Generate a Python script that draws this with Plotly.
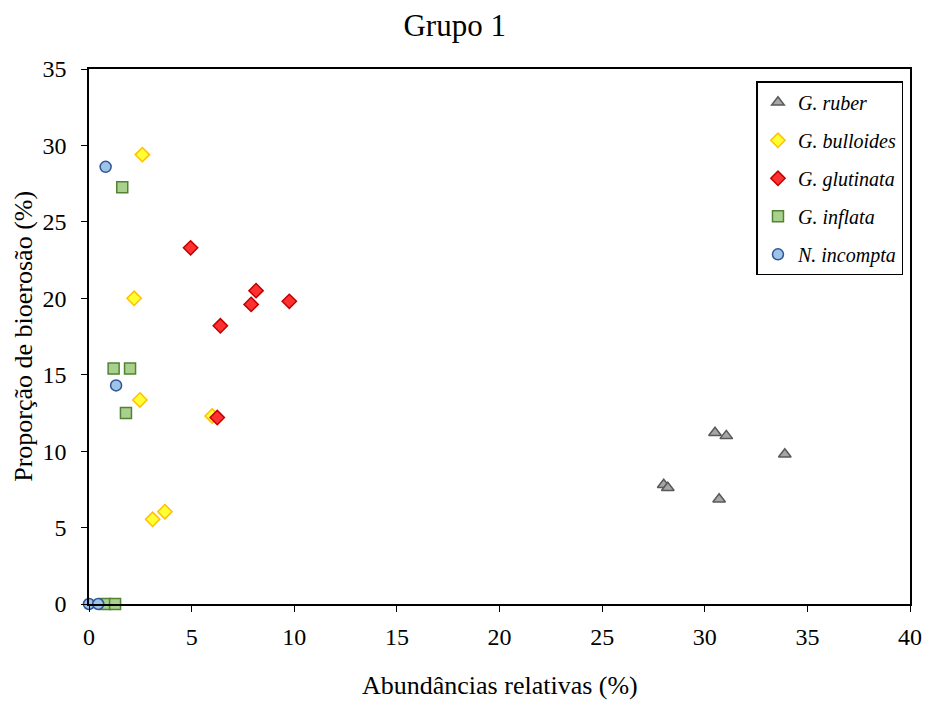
import plotly.graph_objects as go

# Data
ruber_x = [30.5, 31.05, 33.9, 28.0, 28.2, 30.7]
ruber_y = [11.2, 11.0, 9.8, 7.8, 7.6, 6.85]

bulloides_x = [2.6, 2.2, 2.48, 6.0, 3.1, 3.7]
bulloides_y = [29.4, 20.0, 13.35, 12.3, 5.54, 6.04]

glutinata_x = [4.95, 8.14, 7.9, 6.4, 6.25, 9.76]
glutinata_y = [23.3, 20.5, 19.6, 18.2, 12.2, 19.8]

inflata_x = [1.62, 1.2, 2.0, 1.8, 0.78, 1.27]
inflata_y = [27.26, 15.4, 15.4, 12.5, 0.0, 0.0]

incompta_x = [0.81, 1.32, 0.0, 0.45]
incompta_y = [28.6, 14.3, 0.0, 0.0]

series = [
    ("G. ruber", ruber_x, ruber_y, "triangle-up", "#a6a6a6", "#595959", 11),
    ("G. bulloides", bulloides_x, bulloides_y, "diamond", "#ffff33", "#ffc000", 11),
    ("G. glutinata", glutinata_x, glutinata_y, "diamond", "#ff3030", "#c00000", 11),
    ("G. inflata", inflata_x, inflata_y, "square", "#a9d18e", "#548235", 11),
    ("N. incompta", incompta_x, incompta_y, "circle", "#9dc3e6", "#2f5597", 11),
]

fig = go.Figure()
for i, (name, xs, ys, sym, fill, line, size) in enumerate(series):
    fig.add_trace(go.Scatter(
        x=xs, y=ys, mode="markers", name="<i>" + name + "</i>",
        legendgroup=str(i), cliponaxis=False,
        marker=dict(symbol=sym, color=fill, size=size,
                    line=dict(color=line, width=1.5)),
    ))

font_family = "Liberation Serif"

fig.update_layout(
    width=928, height=702,
    margin=dict(l=89, r=18, t=69, b=98),
    paper_bgcolor="white", plot_bgcolor="white",
    font=dict(family=font_family, size=24, color="black"),
    title=dict(text="Grupo 1", x=0.49, xanchor="center", y=0.964, yanchor="middle",
               font=dict(size=31, family=font_family, color="black")),
    showlegend=True,
    legend=dict(x=0.813, y=0.977, xanchor="left", yanchor="top",
                bordercolor="black", borderwidth=1.5, bgcolor="white",
                font=dict(size=20, family=font_family, color="black"),
                tracegroupgap=9, itemwidth=30),
    xaxis=dict(range=[0, 40], dtick=5, showgrid=False, zeroline=False,
               showline=True, linecolor="black", linewidth=1.5, mirror=True,
               ticks="outside", ticklen=6, tickcolor="black",
               ticklabelstandoff=4, automargin=False,
               tickfont=dict(size=24, family=font_family)),
    yaxis=dict(range=[0, 35], dtick=5, showgrid=False, zeroline=False,
               showline=True, linecolor="black", linewidth=1.5, mirror=True,
               ticks="outside", ticklen=6, tickcolor="black",
               ticklabelstandoff=10, automargin=False,
               tickfont=dict(size=24, family=font_family)),
    annotations=[
        dict(text="Abundâncias relativas (%)", xref="paper", yref="paper",
             x=0.5, y=-0.153, xanchor="center", yanchor="middle", showarrow=False,
             font=dict(size=26, family=font_family, color="black")),
        dict(text="Proporção de bioerosão (%)", xref="paper", yref="paper",
             x=-0.08, y=0.5, xanchor="center", yanchor="middle", showarrow=False,
             textangle=-90,
             font=dict(size=26, family=font_family, color="black")),
    ],
)

fig.write_html("out.html")
